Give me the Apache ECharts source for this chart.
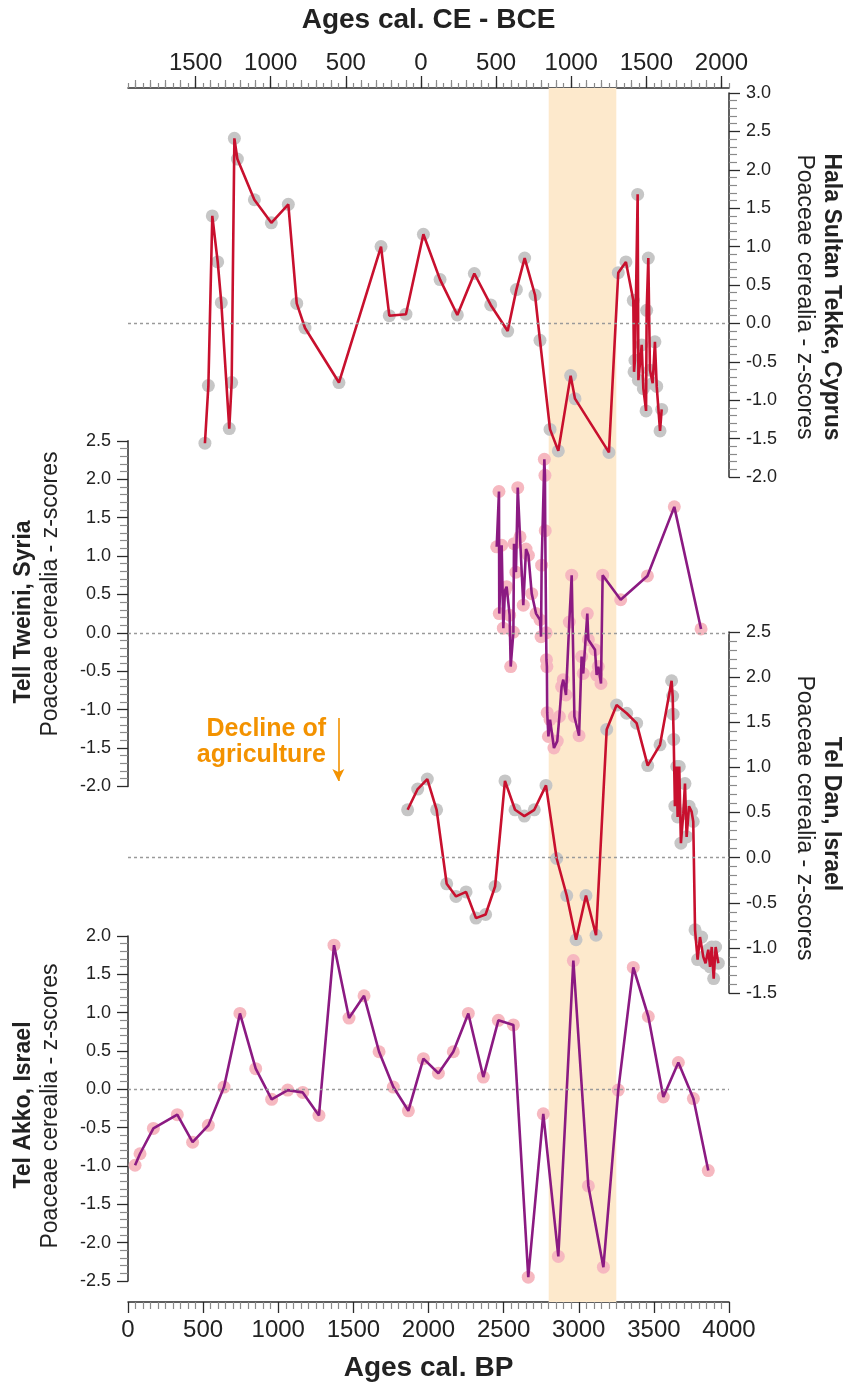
<!DOCTYPE html>
<html><head><meta charset="utf-8">
<script src="https://cdn.jsdelivr.net/npm/echarts@6/dist/echarts.min.js"></script>
<style>html,body{margin:0;padding:0;background:#fff}#c{width:855px;height:1382px}</style>
</head><body><div id="c"></div>
<script>
// ---------- data (ages in cal. BP, values in z-scores) ----------
const halaBP = [512,535,561,597,621,674,690,708,728,841,954,1067,1123,1178,1404,1684,1739,1850,1966,2077,2192,2305,2414,2527,2585,2640,2709,2742,2809,2864,2946,2975,3201,3263,3314,3363,3368,3374,3392,3397,3419,3430,3448,3452,3463,3474,3492,3507,3519,3541,3552];
const halaZ  = [-1.56,-0.81,1.40,0.80,0.27,-1.37,-0.77,2.41,2.14,1.61,1.31,1.55,0.26,-0.06,-0.77,1.00,0.10,0.12,1.16,0.57,0.11,0.65,0.24,-0.10,0.44,0.85,0.37,-0.22,-1.38,-1.66,-0.68,-0.98,-1.68,0.66,0.80,0.30,-0.63,-0.48,1.68,-0.74,-0.28,-0.85,-1.14,0.17,0.85,-0.61,-0.78,-0.24,-0.82,-1.40,-1.12];

const tweiniBP = [2454,2469,2471,2487,2498,2509,2520,2540,2547,2565,2569,2582,2594,2609,2631,2649,2665,2687,2716,2742,2749,2753,2771,2775,2777,2783,2785,2788,2790,2798,2809,2835,2857,2871,2886,2897,2915,2937,2953,2971,3002,3019,3030,3057,3064,3108,3119,3130,3148,3159,3279,3457,3636,3814];
const tweiniZ  = [1.12,1.84,0.25,1.14,0.06,0.55,0.60,0.23,-0.44,0.01,1.16,0.79,1.89,1.25,0.36,1.09,1.01,0.51,0.25,0.17,-0.05,0.88,2.26,2.05,1.33,0.00,-0.35,-0.44,-1.04,-1.35,-1.13,-1.50,-1.41,-1.09,-0.70,-0.61,-0.81,0.14,0.75,-1.09,-1.34,-0.31,-0.53,0.25,-0.09,-0.22,-0.55,-0.44,-0.66,0.75,0.43,0.74,1.64,0.05];

const danBP = [1861,1928,1992,2054,2121,2183,2250,2316,2380,2443,2509,2576,2638,2704,2782,2853,2920,2982,3048,3115,3186,3252,3319,3385,3459,3541,3618,3625,3628,3632,3640,3652,3658,3669,3680,3696,3707,3718,3734,3751,3762,3774,3791,3807,3818,3829,3844,3862,3874,3885,3898,3911,3929];
const danZ  = [0.53,0.76,0.87,0.53,-0.29,-0.43,-0.38,-0.67,-0.63,-0.32,0.85,0.53,0.46,0.53,0.80,-0.01,-0.42,-0.91,-0.42,-0.86,1.42,1.69,1.60,1.49,1.02,1.25,1.96,1.79,1.59,1.31,0.57,1.01,0.45,1.01,0.16,0.49,0.82,0.23,0.57,0.51,0.40,-0.80,-1.13,-0.88,-0.88,-1.10,-1.17,-1.02,-1.21,-0.99,-1.34,-0.99,-1.17];

const akkoBP = [47,80,169,328,430,535,639,745,850,956,1063,1163,1271,1371,1471,1571,1671,1766,1866,1966,2066,2165,2265,2365,2465,2565,2664,2764,2864,2964,3064,3164,3263,3363,3463,3563,3663,3763,3862];
const akkoZ  = [-0.99,-0.84,-0.51,-0.33,-0.69,-0.47,0.03,0.99,0.27,-0.13,-0.01,-0.04,-0.34,1.88,0.93,1.22,0.49,0.03,-0.28,0.40,0.21,0.49,0.99,0.16,0.90,0.84,-2.45,-0.32,-2.18,1.68,-1.26,-2.32,-0.01,1.59,0.95,-0.10,0.35,-0.12,-1.06];

const bandBP = [2800, 3250];
const ceTickLabels = [1500,1000,500,0,-500,-1000,-1500,-2000];
const ce100Ticks = [];
for (let v = 1900; v >= -2000; v -= 100) ce100Ticks.push(v);
const declineArrow = [[1400,-1.11],[1400,-1.93]];

// ---------- styles ----------
const FONT = '"Liberation Sans", Arial, sans-serif';
const RED = '#c8102e', PURPLE = '#8b1a82', GREY = '#c6c6c6', PINK = '#f6b8c0';
const AX = '#2b2b2b', MINOR = '#8a8a8a', TXT = '#222';
const L = 128, R = 126;

function zip(a, b) { return a.map((v, i) => [v, b[i]]); }

function yAx(gi, pos, min, max) {
  return {
    gridIndex: gi, type: 'value', position: pos, min: min, max: max, interval: 0.5,
    axisLine: { show: true, onZero: false, lineStyle: { color: AX, width: 1.5 } },
    axisTick: { show: true, length: 11, lineStyle: { color: AX, width: 1.3 } },
    minorTick: { show: true, splitNumber: 5, length: 8, lineStyle: { color: MINOR, width: 1.2 } },
    splitLine: { show: false },
    axisLabel: { fontSize: 18, color: TXT, margin: 17, fontFamily: FONT, formatter: v => v.toFixed(1) }
  };
}
function hiddenX(gi) {
  return { gridIndex: gi, type: 'value', min: 0, max: 4000, show: false };
}
function zeroLine() {
  return {
    silent: true, symbol: 'none', label: { show: false },
    lineStyle: { color: '#9a9a9a', width: 1.3, type: [3, 3] },
    data: [{ yAxis: 0 }]
  };
}
// x axis index of the hidden axis for panel grid gi (gi = 1..4) is gi + 2
function site(gi, bp, z, lineColor, markerColor, extra) {
  const data = zip(bp, z);
  return [
    { type: 'scatter', xAxisIndex: gi + 2, yAxisIndex: gi, data: data, symbolSize: 13,
      itemStyle: { color: markerColor, opacity: 1 }, z: 2, silent: true, markLine: zeroLine() },
    Object.assign({ type: 'line', xAxisIndex: gi + 2, yAxisIndex: gi, data: data, showSymbol: false,
      lineStyle: { color: lineColor, width: 2.6 }, z: 3, silent: true }, extra || {})
  ];
}
function grid(top, height) {
  return { left: L, right: R, top: top, height: height, outerBoundsMode: 'none', containLabel: false };
}

const chart = echarts.init(document.getElementById('c'), null, { renderer: 'canvas' });
const option = {
  animation: false,
  backgroundColor: '#fff',
  textStyle: { fontFamily: FONT },
  grid: [grid(88, 1214), grid(93, 384), grid(440.8, 345.6), grid(632, 361), grid(936, 345)],
  xAxis: [
    { gridIndex: 0, type: 'value', position: 'bottom', min: 0, max: 4000, interval: 500,
      axisLine: { show: true, onZero: false, lineStyle: { color: AX, width: 1.5 } },
      axisTick: { show: true, length: 11, lineStyle: { color: AX, width: 1.3 } },
      minorTick: { show: true, splitNumber: 10, length: 7, lineStyle: { color: MINOR, width: 1.2 } },
      splitLine: { show: false },
      axisLabel: { fontSize: 24, color: TXT, margin: 16, fontFamily: FONT, formatter: v => String(v) },
      name: 'Ages cal. BP', nameLocation: 'middle', nameGap: 52,
      nameTextStyle: { fontSize: 28, fontWeight: 'bold', color: TXT, fontFamily: FONT } },
    { gridIndex: 0, type: 'value', position: 'top', min: -2050, max: 1950, inverse: true, interval: 50,
      axisLine: { show: true, onZero: false, lineStyle: { color: AX, width: 1.5 } },
      axisTick: { show: true, length: 5, lineStyle: { color: MINOR, width: 1.2 } },
      axisLabel: { show: false }, splitLine: { show: false } },
    { gridIndex: 0, type: 'value', position: 'top', min: -2050, max: 1950, inverse: true,
      axisLine: { show: false, onZero: false },
      axisTick: { show: true, length: 8, customValues: ce100Ticks, lineStyle: { color: MINOR, width: 1.2 } },
      axisLabel: { show: false }, splitLine: { show: false } },
    hiddenX(1), hiddenX(2), hiddenX(3), hiddenX(4),
    { gridIndex: 0, type: 'value', position: 'top', min: -2050, max: 1950, inverse: true,
      axisLine: { show: false, onZero: false },
      axisTick: { show: true, length: 12, customValues: ceTickLabels, lineStyle: { color: AX, width: 1.3 } },
      axisLabel: { show: true, customValues: ceTickLabels, fontSize: 24, color: TXT, margin: 13, fontFamily: FONT,
        formatter: v => String(Math.abs(v)) },
      splitLine: { show: false },
      name: 'Ages cal. CE - BCE', nameLocation: 'middle', nameGap: 54,
      nameTextStyle: { fontSize: 28, fontWeight: 'bold', color: TXT, fontFamily: FONT } }
  ],
  yAxis: [
    { gridIndex: 0, type: 'value', min: 0, max: 1, show: false },
    yAx(1, 'right', -2, 3),
    yAx(2, 'left', -2, 2.5),
    yAx(3, 'right', -1.5, 2.5),
    yAx(4, 'left', -2.5, 2)
  ],
  series: [
    { type: 'line', xAxisIndex: 0, yAxisIndex: 0, data: [], z: 0, silent: true,
      markArea: { silent: true, itemStyle: { color: '#fde9cc' },
        data: [[{ xAxis: bandBP[0] }, { xAxis: bandBP[1] }]] } },
    ...site(1, halaBP, halaZ, RED, GREY),
    ...site(2, tweiniBP, tweiniZ, PURPLE, PINK, {
      markLine: { silent: true, symbol: ['none', 'arrow'], symbolSize: [9, 12], label: { show: false },
        lineStyle: { color: '#f39200', width: 1.6, type: 'solid' },
        data: [[{ coord: declineArrow[0] }, { coord: declineArrow[1] }]] } }),
    ...site(3, danBP, danZ, RED, GREY),
    ...site(4, akkoBP, akkoZ, PURPLE, PINK)
  ],
  graphic: [
    { type: 'text', x: 831, y: 297, rotation: -Math.PI / 2,
      style: { text: 'Hala Sultan Tekke, Cyprus', font: 'bold 23px ' + FONT, fill: TXT, textAlign: 'center', textVerticalAlign: 'middle' } },
    { type: 'text', x: 804, y: 297, rotation: -Math.PI / 2,
      style: { text: 'Poaceae cerealia - z-scores', font: '23px ' + FONT, fill: TXT, textAlign: 'center', textVerticalAlign: 'middle' } },
    { type: 'text', x: 24, y: 612, rotation: Math.PI / 2,
      style: { text: 'Tell Tweini, Syria', font: 'bold 23px ' + FONT, fill: TXT, textAlign: 'center', textVerticalAlign: 'middle' } },
    { type: 'text', x: 51, y: 594, rotation: Math.PI / 2,
      style: { text: 'Poaceae cerealia - z-scores', font: '23px ' + FONT, fill: TXT, textAlign: 'center', textVerticalAlign: 'middle' } },
    { type: 'text', x: 831, y: 814, rotation: -Math.PI / 2,
      style: { text: 'Tel Dan, Israel', font: 'bold 23px ' + FONT, fill: TXT, textAlign: 'center', textVerticalAlign: 'middle' } },
    { type: 'text', x: 804, y: 818, rotation: -Math.PI / 2,
      style: { text: 'Poaceae cerealia - z-scores', font: '23px ' + FONT, fill: TXT, textAlign: 'center', textVerticalAlign: 'middle' } },
    { type: 'text', x: 24, y: 1105, rotation: Math.PI / 2,
      style: { text: 'Tel Akko, Israel', font: 'bold 23px ' + FONT, fill: TXT, textAlign: 'center', textVerticalAlign: 'middle' } },
    { type: 'text', x: 51, y: 1106, rotation: Math.PI / 2,
      style: { text: 'Poaceae cerealia - z-scores', font: '23px ' + FONT, fill: TXT, textAlign: 'center', textVerticalAlign: 'middle' } },
    { type: 'text', x: 326, y: 729,
      style: { text: 'Decline of', font: 'bold 25px ' + FONT, fill: '#f39200', textAlign: 'right', textVerticalAlign: 'middle' } },
    { type: 'text', x: 326, y: 755,
      style: { text: 'agriculture', font: 'bold 25px ' + FONT, fill: '#f39200', textAlign: 'right', textVerticalAlign: 'middle' } }
  ]
};
chart.setOption(option);
</script></body></html>
